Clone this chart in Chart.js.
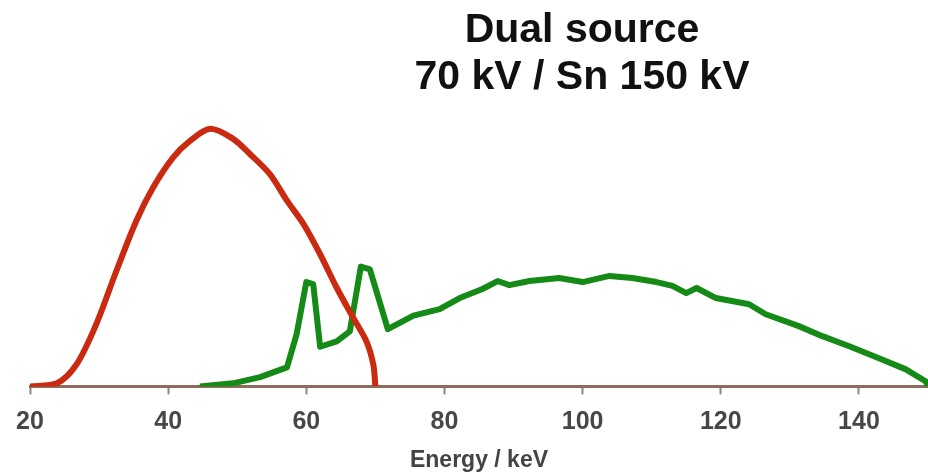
<!DOCTYPE html>
<html>
<head>
<meta charset="utf-8">
<script src="https://cdn.jsdelivr.net/npm/chart.js@4.4.0/dist/chart.umd.js"></script>
<style>
  html, body { margin: 0; padding: 0; background: #fff; }
  #wrap { position: relative; width: 928px; height: 474px; }
  #title {
    position: absolute; top: 5px; left: 582px; transform: translateX(-50%);
    font: bold 41px "Liberation Sans", Arial, sans-serif; line-height: 47px;
    text-align: center; white-space: nowrap; color: #111;
  }
</style>
</head>
<body>
<div id="wrap">
  <canvas id="chart" width="928" height="474"></canvas>
  <div id="title"></div>
</div>
<script>
// spectra (relative intensity, low-kV peak = 100)
const titleLines = ['Dual source', '70 kV / Sn 150 kV'];
const axisTitle = 'Energy / keV';
const xTicks = [20, 40, 60, 80, 100, 120, 140];

const lowEnergy = [20, 23.9, 26.75, 29.6, 32.5, 35.4, 37.8, 40.7, 43.2, 46.1, 49.4, 51.8, 54.7, 57.2, 59.6, 62, 64.4, 66.8, 68.7, 69.7, 70];
const lowIntensity = [0, 1.2, 8.6, 24.2, 44.8, 64.3, 77.1, 88.8, 95.4, 100, 96.1, 90.3, 82.5, 72.1, 63, 51.3, 38.3, 26.6, 17.5, 8.5, 0];

const highEnergy = [44.6, 49.4, 53.3, 57.2, 58.6, 60, 61, 62, 64.4, 66.3, 67.9, 69.2, 71.8, 75.5, 79.3, 82.2, 85.5, 87.7, 89.4, 92.3, 96.6, 100, 103.9, 107.2, 110.7, 113, 115, 116.5, 119.3, 124.1, 126.5, 131.3, 134.7, 138.6, 142.9, 146.8, 149.7, 150];
const highIntensity = [0, 1.2, 3.6, 7.4, 20.3, 40.5, 39.7, 15.4, 17.5, 21.4, 46.5, 45.4, 22.2, 27.5, 30, 34.3, 37.8, 40.9, 39.3, 40.9, 42.1, 40.5, 42.9, 42.1, 40.5, 39, 36.2, 38.2, 34.3, 31.9, 28, 23.4, 19.5, 15.6, 10.9, 6.6, 1.9, 0];

document.getElementById('title').innerHTML = titleLines.join('<br>');

const toPoints = (xs, ys) => xs.map((x, i) => ({ x, y: ys[i] }));

new Chart(document.getElementById('chart'), {
  type: 'line',
  data: {
    datasets: [{
      label: '70 kV',
      data: toPoints(lowEnergy, lowIntensity),
      borderColor: '#c92a10',
      borderWidth: 6,
      tension: 0.3,
      pointRadius: 0
    }, {
      label: 'Sn 150 kV',
      data: toPoints(highEnergy, highIntensity),
      borderColor: '#168a16',
      borderWidth: 6,
      tension: 0,
      borderJoinStyle: 'round',
      pointRadius: 0
    }]
  },
  options: {
    responsive: false,
    animation: false,
    layout: { padding: { left: 30, right: 0, top: 0, bottom: 0 } },
    plugins: { legend: { display: false }, tooltip: { enabled: false } },
    scales: {
      x: {
        type: 'linear',
        min: 20,
        max: 150,
        afterBuildTicks: (axis) => { axis.ticks = xTicks.map(v => ({ value: v })); },
        grid: { drawOnChartArea: false, drawTicks: true, tickLength: 8, tickColor: '#8a8580', tickWidth: 2 },
        border: { color: '#8d6c5e', width: 3 },
        ticks: {
          padding: 13,
          color: '#474747',
          font: { family: "'Liberation Sans', Arial, sans-serif", size: 25, weight: 'bold' }
        },
        title: {
          display: true,
          text: axisTitle,
          color: '#444',
          padding: { top: -4, bottom: 0 },
          font: { family: "'Liberation Sans', Arial, sans-serif", size: 23, weight: 'bold' }
        }
      },
      y: { display: false, min: 0, max: 150 }
    }
  }
});
</script>
</body>
</html>
